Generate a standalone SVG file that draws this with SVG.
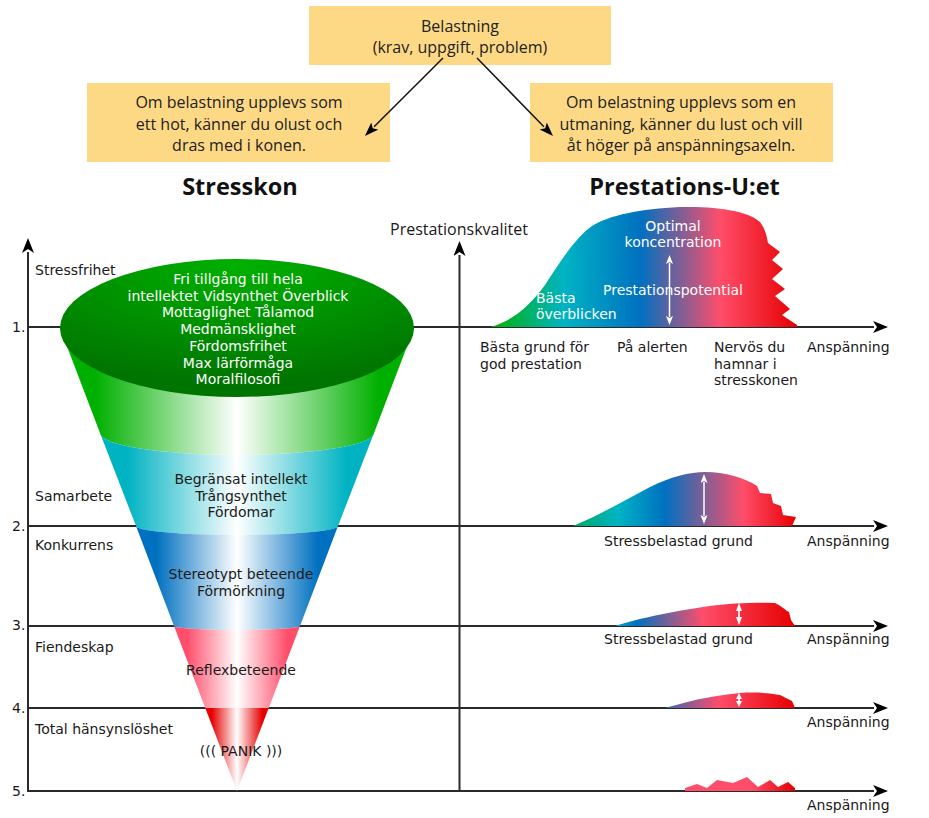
<svg xmlns="http://www.w3.org/2000/svg" width="929" height="818" viewBox="0 0 929 818">
<defs>
<style>
.box{fill:#fed985}
.bt{font-family:"Open Sans","Liberation Sans",sans-serif;font-size:16px;fill:#222;text-anchor:middle}
.title{font-family:"Open Sans","Liberation Sans",sans-serif;font-size:23.5px;font-weight:bold;fill:#111;text-anchor:middle}
.t{font-family:"DejaVu Sans","Liberation Sans",sans-serif;font-size:14px;fill:#1a1a1a}
.ykl{font-family:"Open Sans","Liberation Sans",sans-serif;font-size:16px;fill:#1a1a1a}
.c{text-anchor:middle}
.w{fill:#ffffff}
.ax{stroke:#2a2a2a;stroke-width:2;fill:none}
.con{stroke:#111;stroke-width:1.5;fill:none}
.dbl{stroke:#fff;stroke-width:1.5;fill:none}
</style>
<marker id="ah" markerUnits="userSpaceOnUse" markerWidth="16" markerHeight="14" refX="1" refY="6" orient="auto">
<path d="M0,0 L15,6 L0,12 L4,6 Z" fill="#000"/>
</marker>
<marker id="ahs" markerUnits="userSpaceOnUse" markerWidth="16" markerHeight="12" refX="1" refY="5" orient="auto">
<path d="M0,0 L14,5 L0,10 L3,5 Z" fill="#000"/>
</marker>
<marker id="wh" markerUnits="userSpaceOnUse" markerWidth="10" markerHeight="8" refX="1" refY="3.5" orient="auto-start-reverse">
<path d="M0,0 L9,3.5 L0,7 L2,3.5 Z" fill="#fff"/>
</marker>
<radialGradient id="gTop" cx="0.5" cy="0.05" r="0.85">
<stop offset="0" stop-color="#00b000"/>
<stop offset="1" stop-color="#007400"/>
</radialGradient>
<linearGradient id="gGreen" x1="0" y1="0" x2="1" y2="0">
<stop offset="0" stop-color="#00b000"/><stop offset="0.1" stop-color="#00b000"/><stop offset="0.5" stop-color="#ffffff"/><stop offset="0.9" stop-color="#00b000"/><stop offset="1" stop-color="#00b000"/>
</linearGradient>
<linearGradient id="gCyan" x1="0" y1="0" x2="1" y2="0">
<stop offset="0" stop-color="#00b3c3"/><stop offset="0.1" stop-color="#00b3c3"/><stop offset="0.5" stop-color="#ffffff"/><stop offset="0.9" stop-color="#00b3c3"/><stop offset="1" stop-color="#00b3c3"/>
</linearGradient>
<linearGradient id="gBlue" x1="0" y1="0" x2="1" y2="0">
<stop offset="0" stop-color="#0070c0"/><stop offset="0.1" stop-color="#0070c0"/><stop offset="0.5" stop-color="#ffffff"/><stop offset="0.9" stop-color="#0070c0"/><stop offset="1" stop-color="#0070c0"/>
</linearGradient>
<linearGradient id="gPink" x1="0" y1="0" x2="1" y2="0">
<stop offset="0" stop-color="#ff4d6a"/><stop offset="0.1" stop-color="#ff4d6a"/><stop offset="0.5" stop-color="#ffffff"/><stop offset="0.9" stop-color="#ff4d6a"/><stop offset="1" stop-color="#ff4d6a"/>
</linearGradient>
<linearGradient id="gRed" x1="0" y1="0" x2="1" y2="0">
<stop offset="0" stop-color="#e60000"/><stop offset="0.1" stop-color="#e60000"/><stop offset="0.5" stop-color="#ffffff"/><stop offset="0.9" stop-color="#e60000"/><stop offset="1" stop-color="#e60000"/>
</linearGradient>
<linearGradient id="gC1" gradientUnits="userSpaceOnUse" x1="490" y1="0" x2="797" y2="0">
<stop offset="0" stop-color="#00b000"/><stop offset="0.24" stop-color="#00b4c4"/><stop offset="0.49" stop-color="#0070c0"/><stop offset="0.75" stop-color="#ff4d6a"/><stop offset="1" stop-color="#e60000"/>
</linearGradient>
<linearGradient id="gC2" gradientUnits="userSpaceOnUse" x1="573" y1="0" x2="797" y2="0">
<stop offset="0" stop-color="#00a860"/><stop offset="0.2" stop-color="#00b4c4"/><stop offset="0.41" stop-color="#0070c0"/><stop offset="0.76" stop-color="#ff4d6a"/><stop offset="1" stop-color="#e60000"/>
</linearGradient>
<linearGradient id="gC3" gradientUnits="userSpaceOnUse" x1="615" y1="0" x2="795" y2="0">
<stop offset="0" stop-color="#10a8d4"/><stop offset="0.12" stop-color="#0070c0"/><stop offset="0.49" stop-color="#ff4d6a"/><stop offset="1" stop-color="#e60000"/>
</linearGradient>
<linearGradient id="gC4" gradientUnits="userSpaceOnUse" x1="665" y1="0" x2="795" y2="0">
<stop offset="0" stop-color="#3a66b4"/><stop offset="0.42" stop-color="#ff4d6a"/><stop offset="1" stop-color="#e60000"/>
</linearGradient>
<linearGradient id="gC5" gradientUnits="userSpaceOnUse" x1="685" y1="0" x2="795" y2="0">
<stop offset="0" stop-color="#ff4d6a"/><stop offset="0.6" stop-color="#ff4d6a"/><stop offset="1" stop-color="#e60000"/>
</linearGradient>
</defs>

<rect width="929" height="818" fill="#ffffff"/>

<g id="box-belastning">
<rect class="box" x="309" y="6" width="302" height="59"/>
<text class="bt" x="460" y="32">Belastning</text>
<text class="bt" x="460" y="53">(krav, uppgift, problem)</text>
</g>
<g id="box-hot">
<rect class="box" x="87" y="83" width="303" height="79"/>
<text class="bt" x="239" y="108">Om belastning upplevs som</text>
<text class="bt" x="239" y="130">ett hot, känner du olust och</text>
<text class="bt" x="239" y="151">dras med i konen.</text>
</g>
<g id="box-utmaning">
<rect class="box" x="530" y="83" width="303" height="79"/>
<text class="bt" x="681" y="108">Om belastning upplevs som en</text>
<text class="bt" x="681" y="130">utmaning, känner du lust och vill</text>
<text class="bt" x="681" y="151">åt höger på anspänningsaxeln.</text>
</g>

<g id="connectors">
<line class="con" x1="443" y1="58" x2="374.1" y2="126.8" marker-end="url(#ahs)"/>
<line class="con" x1="477" y1="58" x2="543.9" y2="126.7" marker-end="url(#ahs)"/>
</g>

<g id="titles">
<text class="title" x="240" y="195">Stresskon</text>
<text class="title" x="684.5" y="195">Prestations-U:et</text>
</g>

<g id="axes">
<line class="ax" x1="28" y1="792" x2="28" y2="252" marker-end="url(#ah)"/>
<line class="ax" x1="459.5" y1="791" x2="459.5" y2="255" marker-end="url(#ah)"/>
<line class="ax" x1="28" y1="327" x2="874" y2="327" marker-end="url(#ah)"/>
<line class="ax" x1="28" y1="526" x2="874" y2="526" marker-end="url(#ah)"/>
<line class="ax" x1="28" y1="626" x2="874" y2="626" marker-end="url(#ah)"/>
<line class="ax" x1="28" y1="708" x2="874" y2="708" marker-end="url(#ah)"/>
<line class="ax" x1="27" y1="791" x2="874" y2="791" marker-end="url(#ah)"/>
<text class="t" x="12" y="332">1.</text>
<text class="t" x="12" y="531">2.</text>
<text class="t" x="12" y="630">3.</text>
<text class="t" x="12" y="713">4.</text>
<text class="t" x="12" y="796">5.</text>
<text class="ykl" x="390" y="235">Prestationskvalitet</text>
</g>

<g id="levels">
<text class="t" x="35" y="275">Stressfrihet</text>
<text class="t" x="35" y="501">Samarbete</text>
<text class="t" x="35" y="550">Konkurrens</text>
<text class="t" x="35" y="652">Fiendeskap</text>
<text class="t" x="35" y="734">Total hänsynslöshet</text>
</g>

<g id="cone">
<path d="M60,328 L100,433 A137,22 0 0 0 374,433 L414,328 Z" fill="url(#gGreen)"/>
<path d="M100,433 A137,22 0 0 0 374,433 L338,526 A101,9 0 0 1 136,526 Z" fill="url(#gCyan)"/>
<path d="M136,526 A101,9 0 0 0 338,526 L300,626 A63,4 0 0 1 174,626 Z" fill="url(#gBlue)"/>
<path d="M174,626 A63,4 0 0 0 300,626 L268.7,708 L205.3,708 Z" fill="url(#gPink)"/>
<path d="M205.3,708 L268.7,708 L237,791 Z" fill="url(#gRed)"/>
<ellipse cx="237" cy="328" rx="177" ry="69" fill="url(#gTop)"/>
</g>
<g id="cone-top-text">
<text class="t c w" x="238" y="284">Fri tillgång till hela</text>
<text class="t c w" x="238" y="300.7">intellektet Vidsynthet Överblick</text>
<text class="t c w" x="238" y="317.4">Mottaglighet Tålamod</text>
<text class="t c w" x="238" y="334.1">Medmänsklighet</text>
<text class="t c w" x="238" y="350.8">Fördomsfrihet</text>
<text class="t c w" x="238" y="367.5">Max lärförmåga</text>
<text class="t c w" x="238" y="384.2">Moralfilosofi</text>
</g>
<g id="cone-band2">
<text class="t c" x="241" y="484">Begränsat intellekt</text>
<text class="t c" x="241" y="500.7">Trångsynthet</text>
<text class="t c" x="241" y="517.4">Fördomar</text>
</g>
<g id="cone-band3">
<text class="t c" x="241" y="579">Stereotypt beteende</text>
<text class="t c" x="241" y="595.7">Förmörkning</text>
</g>
<g id="cone-band4">
<text class="t c" x="241" y="675">Reflexbeteende</text>
</g>
<g id="cone-band5">
<text class="t c" x="241" y="756">((( PANIK )))</text>
</g>

<g id="chart1">
<path d="M490,327 C515,320 530,305 545,285 C560,262 575,238 592,226 C610,215 640,209 680,207 C720,206 750,212 760,222 C766,230 767,238 768,243 L780,252 L772,260 L783,269 L772,279 L785,289 L775,296 L790,309 L782,315 L797,325 L797,327 Z" fill="url(#gC1)"/>
<line class="dbl" x1="669.5" y1="263" x2="669.5" y2="317" marker-start="url(#wh)" marker-end="url(#wh)"/>
<text class="t c w" x="673" y="231">Optimal</text>
<text class="t c w" x="673" y="247">koncentration</text>
<text class="t w" x="603" y="295">Prestationspotential</text>
<text class="t w" x="536" y="303">Bästa</text>
<text class="t w" x="536" y="319">överblicken</text>
<text class="t" x="480" y="352">Bästa grund för</text>
<text class="t" x="480" y="368.7">god prestation</text>
<text class="t" x="617" y="352">På alerten</text>
<text class="t" x="714" y="352">Nervös du</text>
<text class="t" x="714" y="368.7">hamnar i</text>
<text class="t" x="714" y="385.4">stresskonen</text>
<text class="t" x="807" y="352">Anspänning</text>
</g>

<g id="chart2">
<path d="M573,526 C600,515 625,500 650,487 C670,477 690,472 705,472 C725,472 745,478 757,486 L760,493 L771,494 L773,503 L781,506 L783,515 L796,517 L792,526 Z" fill="url(#gC2)"/>
<line class="dbl" x1="704" y1="482" x2="704" y2="516" marker-start="url(#wh)" marker-end="url(#wh)"/>
<text class="t" x="604" y="546">Stressbelastad grund</text>
<text class="t" x="807" y="546">Anspänning</text>
</g>

<g id="chart3">
<path d="M615,626 C640,618 680,610 710,606 C730,603 760,602 775,603 C780,605 783,608 787,611 L789,612 L791,620 L795,626 Z" fill="url(#gC3)"/>
<path d="M739,603 L742,611 L739.8,611 L739.8,617 L742,617 L739,625 L736,617 L738.2,617 L738.2,611 L736,611 Z" fill="#fff"/>
<text class="t" x="604" y="644">Stressbelastad grund</text>
<text class="t" x="807" y="644">Anspänning</text>
</g>

<g id="chart4">
<path d="M665,708 C680,704 690,701 700,699 C715,696 730,694 740,693 C755,692 770,693 780,695 C784,697 786,698 788,699 L792,701 L795,708 Z" fill="url(#gC4)"/>
<path d="M739,693 L742,699 L739.8,699 L739.8,701 L742,701 L739,707 L736,701 L738.2,701 L738.2,699 L736,699 Z" fill="#fff"/>
<text class="t" x="807" y="727">Anspänning</text>
</g>

<g id="chart5">
<path d="M685,791 L685,788 L697,784 L707,788 L717,780 L733,783 L747,777 L758,787 L770,780 L778,787 L788,782 L795,788 L795,791 Z" fill="url(#gC5)"/>
<text class="t" x="807" y="810">Anspänning</text>
</g>
</svg>
